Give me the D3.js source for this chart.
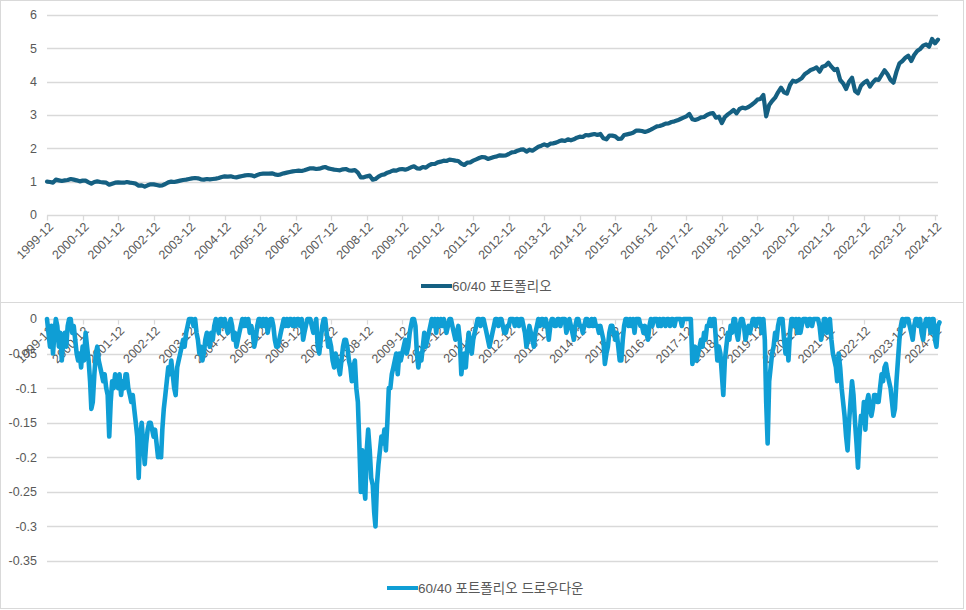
<!DOCTYPE html>
<html><head><meta charset="utf-8">
<script src="https://cdn.jsdelivr.net/npm/d3@7"></script>
<style>
html,body{margin:0;padding:0;background:#fff;}
svg text{font-family:"Liberation Sans","Noto Sans CJK KR",Arial,sans-serif;}
</style></head>
<body><svg id="c" width="966" height="610"></svg>
<script>
// ---- data ----
// portfolio value: monthly, starting 1999-12
const startMonth = "1999-12";
const portfolioValue = [
1.00,
0.99,0.97,1.06,1.04,1.02,1.04,1.05,1.08,1.06,1.04,1.01,1.03,
1.03,0.98,0.94,0.99,1.01,0.99,0.98,0.97,0.91,0.94,0.97,0.98,
0.97,0.97,0.99,0.97,0.96,0.94,0.88,0.89,0.85,0.89,0.92,0.92,
0.90,0.88,0.89,0.93,0.98,1.00,0.99,1.01,1.03,1.05,1.06,1.08,
1.10,1.11,1.10,1.07,1.06,1.08,1.07,1.08,1.09,1.11,1.14,1.16,
1.15,1.16,1.14,1.13,1.15,1.17,1.19,1.20,1.19,1.16,1.20,1.23,
1.24,1.24,1.24,1.25,1.22,1.20,1.22,1.25,1.27,1.29,1.31,1.32,
1.33,1.32,1.34,1.37,1.40,1.40,1.38,1.39,1.42,1.44,1.40,1.38,
1.36,1.35,1.34,1.37,1.38,1.34,1.33,1.35,1.27,1.13,1.13,1.16,
1.18,1.06,1.08,1.15,1.20,1.22,1.27,1.30,1.34,1.33,1.37,1.38,
1.36,1.39,1.43,1.46,1.40,1.39,1.44,1.42,1.49,1.53,1.53,1.58,
1.60,1.63,1.62,1.66,1.65,1.63,1.62,1.54,1.50,1.57,1.58,1.63,
1.67,1.71,1.74,1.73,1.68,1.71,1.74,1.76,1.79,1.78,1.79,1.83,
1.88,1.89,1.93,1.96,1.97,1.90,1.96,1.93,1.99,2.05,2.08,2.12,
2.08,2.14,2.15,2.17,2.21,2.24,2.22,2.27,2.24,2.27,2.32,2.35,
2.34,2.40,2.39,2.41,2.43,2.40,2.43,2.30,2.27,2.38,2.38,2.36,
2.28,2.29,2.40,2.42,2.44,2.47,2.53,2.53,2.52,2.49,2.52,2.56,
2.61,2.66,2.67,2.70,2.74,2.75,2.79,2.81,2.84,2.88,2.92,2.96,
3.03,2.87,2.85,2.88,2.93,2.94,3.00,3.04,3.06,2.92,2.95,2.76,
2.94,3.02,3.08,3.15,3.05,3.18,3.22,3.20,3.24,3.30,3.37,3.46,
3.48,3.60,2.96,3.30,3.42,3.52,3.68,3.82,3.68,3.64,3.90,4.03,
4.00,4.05,4.10,4.22,4.28,4.35,4.38,4.43,4.30,4.45,4.48,4.57,
4.45,4.35,4.38,4.05,3.95,3.78,4.00,4.12,3.72,3.65,3.88,3.97,
4.03,3.85,3.97,4.07,4.05,4.20,4.34,4.22,4.05,3.97,4.30,4.55,
4.62,4.72,4.78,4.62,4.80,4.92,4.98,5.08,5.12,5.05,5.28,5.15,
5.26
];
// drawdown: twice a month (1st, 16th), starting 1999-12
const drawdown = [
0,-0.02,
-0.04,-0.01,-0.05,-0.02,0,-0.01,-0.04,-0.02,-0.06,-0.03,-0.02,-0.04,-0.01,0,0,-0.02,-0.01,-0.03,-0.05,-0.06,-0.05,-0.07,-0.04,-0.06,
-0.02,-0.04,-0.06,-0.09,-0.13,-0.12,-0.08,-0.05,-0.04,-0.06,-0.07,-0.08,-0.09,-0.08,-0.10,-0.11,-0.17,-0.12,-0.09,-0.10,-0.08,-0.09,-0.10,-0.08,
-0.11,-0.09,-0.10,-0.08,-0.08,-0.10,-0.11,-0.12,-0.11,-0.13,-0.15,-0.17,-0.23,-0.17,-0.15,-0.18,-0.21,-0.18,-0.16,-0.15,-0.15,-0.16,-0.17,-0.16,
-0.18,-0.20,-0.19,-0.20,-0.16,-0.13,-0.11,-0.09,-0.07,-0.08,-0.06,-0.08,-0.10,-0.11,-0.07,-0.06,-0.05,-0.04,-0.03,-0.04,-0.02,-0.01,0,0,
0,-0.01,0,-0.02,-0.03,-0.05,-0.04,-0.06,-0.05,-0.03,-0.02,-0.03,-0.04,-0.02,-0.03,-0.01,0,-0.01,-0.02,0,0,-0.01,0,-0.01,
-0.02,-0.01,0,-0.01,-0.03,-0.02,-0.04,-0.03,-0.02,-0.01,0,-0.01,0,-0.01,0,-0.02,-0.01,-0.02,-0.04,-0.03,-0.01,0,0,-0.01,
0,-0.01,0,-0.02,-0.01,0,0,-0.01,-0.03,-0.04,-0.04,-0.03,-0.02,-0.01,0,-0.01,0,-0.01,0,0,-0.01,0,-0.01,0,
0,-0.01,0,-0.03,-0.02,-0.01,0,0,0,-0.01,-0.02,-0.01,0,-0.04,-0.05,-0.03,-0.01,0,0,-0.02,-0.04,-0.03,-0.04,-0.06,
-0.07,-0.05,-0.06,-0.07,-0.08,-0.06,-0.04,-0.03,-0.03,-0.04,-0.06,-0.07,-0.09,-0.07,-0.06,-0.10,-0.12,-0.18,-0.25,-0.19,-0.24,-0.26,-0.19,-0.16,
-0.19,-0.23,-0.24,-0.28,-0.30,-0.24,-0.21,-0.19,-0.17,-0.18,-0.16,-0.19,-0.15,-0.10,-0.10,-0.08,-0.07,-0.06,-0.05,-0.08,-0.05,-0.06,-0.05,-0.04,
-0.03,-0.05,-0.04,-0.02,-0.01,0,0,-0.01,-0.05,-0.07,-0.05,-0.06,-0.04,-0.02,-0.04,-0.03,-0.02,-0.01,0,-0.01,0,-0.02,0,-0.01,
0,-0.01,0,-0.01,-0.02,-0.01,0,0,-0.01,-0.02,-0.03,-0.02,-0.01,-0.03,-0.08,-0.06,-0.05,-0.07,-0.04,-0.02,-0.04,-0.05,-0.03,-0.02,
-0.01,0,0,-0.01,0,0,-0.01,-0.02,-0.03,-0.04,-0.03,-0.02,-0.01,0,0,-0.01,0,0,-0.01,-0.02,-0.02,-0.01,-0.01,0,
0,0,-0.01,0,0,-0.01,0,0,-0.01,-0.02,-0.04,-0.03,-0.01,-0.02,-0.03,-0.04,-0.02,-0.01,0,-0.01,0,0,-0.01,0,
-0.01,-0.03,-0.01,0,0,-0.01,-0.01,0,0,-0.01,0,0,0,-0.02,-0.01,0,-0.01,-0.02,-0.03,-0.01,0,0,-0.01,-0.01,
-0.02,-0.01,0,0,-0.01,-0.01,0,-0.01,0,-0.01,-0.01,-0.02,-0.01,-0.02,-0.03,-0.065,-0.05,-0.04,-0.02,-0.01,-0.01,-0.02,-0.03,-0.02,
-0.04,-0.06,-0.06,-0.03,-0.01,0,0,-0.01,0,-0.01,0,-0.02,0,0,0,-0.01,-0.01,-0.02,-0.01,-0.02,-0.03,-0.01,0,-0.01,
0,0,0,-0.01,0,-0.01,0,0,-0.01,0,0,-0.01,0,0,-0.01,0,0,0,0,-0.01,0,0,0,0,
0,0,-0.065,-0.05,-0.04,-0.06,-0.05,-0.04,-0.03,-0.04,-0.02,-0.03,-0.01,-0.01,0,-0.01,0,0,-0.03,-0.06,-0.04,-0.05,-0.08,-0.11,
-0.06,-0.04,-0.02,-0.03,-0.01,-0.02,0,0,-0.02,-0.03,-0.01,0,0,-0.01,-0.03,-0.02,-0.01,-0.02,-0.01,0,0,-0.01,0,0,
0,-0.02,0,-0.03,-0.12,-0.18,-0.09,-0.07,-0.05,-0.04,-0.02,-0.03,-0.01,0,0,0,-0.03,-0.05,-0.03,-0.06,-0.02,0,0,-0.01,
0,-0.02,0,-0.02,-0.01,0,0,0,-0.01,0,0,-0.01,0,0,0,0,-0.01,-0.03,-0.02,0,0,-0.02,-0.01,0,
-0.03,-0.05,-0.06,-0.07,-0.09,-0.05,-0.07,-0.10,-0.12,-0.14,-0.17,-0.19,-0.15,-0.12,-0.09,-0.11,-0.15,-0.18,-0.215,-0.17,-0.14,-0.15,-0.12,-0.16,
-0.12,-0.11,-0.13,-0.14,-0.13,-0.11,-0.11,-0.12,-0.12,-0.10,-0.08,-0.09,-0.07,-0.065,-0.08,-0.09,-0.10,-0.12,-0.14,-0.13,-0.09,-0.06,-0.03,-0.01,
0,-0.01,0,0,0,-0.01,-0.02,-0.03,-0.01,0,0,-0.01,0,-0.02,-0.03,-0.01,0,-0.01,0,-0.02,0,0,-0.03,-0.04,
-0.01,-0.005
];
const xTickLabels = ["1999-12","2000-12","2001-12","2002-12","2003-12","2004-12","2005-12","2006-12","2007-12","2008-12","2009-12","2010-12","2011-12","2012-12","2013-12","2014-12","2015-12","2016-12","2017-12","2018-12","2019-12","2020-12","2021-12","2022-12","2023-12","2024-12"];
const topYTicks = [0,1,2,3,4,5,6];
const bottomYTicks = [0,-0.05,-0.1,-0.15,-0.2,-0.25,-0.3,-0.35];
const topLegend = "60/40 포트폴리오";
const bottomLegend = "60/40 포트폴리오 드로우다운";
const xDomain = ["1999-12","2025-01"];

const parseM = d3.timeParse("%Y-%m");
const t0 = parseM(startMonth);
const valueDates = portfolioValue.map((_, i) => d3.timeMonth.offset(t0, i));
const ddDates = drawdown.map((_, i) => d3.timeDay.offset(d3.timeMonth.offset(t0, Math.floor(i/2)), (i%2) ? 15 : 0));

const svg = d3.select("#c");
const grid = "#d9d9d9", txt = "#595959";
const c1 = "#156082", c2 = "#0F9ED5";

// frames
svg.append("rect").attr("x",0.5).attr("y",0.5).attr("width",963).attr("height",302).attr("fill","none").attr("stroke",grid);
svg.append("rect").attr("x",0.5).attr("y",302.5).attr("width",963).attr("height",306).attr("fill","none").attr("stroke",grid);

const x = d3.scaleTime().domain(xDomain.map(parseM)).range([47, 938]);
const tickDates = xTickLabels.map(parseM);

function drawPanel(opts){
  const {y, yTicks, fmt, axisY, values, dates, color, width, legend, legY, legX} = opts;
  const g = svg.append("g");
  g.selectAll("line.grid").data(yTicks).join("line")
    .attr("x1", 47).attr("x2", 938)
    .attr("y1", d => Math.round(y(d))+0.5).attr("y2", d => Math.round(y(d))+0.5)
    .attr("stroke", grid).attr("stroke-width", 1.3);
  g.selectAll("text.yl").data(yTicks).join("text")
    .attr("x", 37).attr("y", d => y(d)).attr("dy","0.35em")
    .attr("text-anchor","end").attr("font-size",12.5).attr("fill",txt)
    .text(fmt);
  const ay = Math.round(y(axisY))+0.5;
  g.selectAll("line.xt").data(tickDates).join("line")
    .attr("x1", d => Math.round(x(d))+0.5).attr("x2", d => Math.round(x(d))+0.5)
    .attr("y1", ay).attr("y2", ay+5).attr("stroke", grid).attr("stroke-width",1.3);
  g.selectAll("text.xl").data(tickDates).join("text")
    .attr("transform", d => `translate(${x(d)+4},${ay+9}) rotate(-45)`)
    .attr("text-anchor","end").attr("dy","0.35em")
    .attr("font-size",12.5).attr("fill",txt)
    .text((d,i) => xTickLabels[i]);
  const line = d3.line().x((d,i) => x(dates[i])).y(d => y(d));
  g.append("path").datum(values).attr("d", line)
    .attr("fill","none").attr("stroke",color).attr("stroke-width",width)
    .attr("stroke-linejoin","round").attr("stroke-linecap","round");
  const lg = svg.append("g");
  lg.append("line").attr("x1", legX).attr("x2", legX+31).attr("y1", legY).attr("y2", legY)
    .attr("stroke", color).attr("stroke-width", 4);
  lg.append("text").attr("x", legX+31).attr("y", legY).attr("dy","0.35em")
    .attr("font-size",13.5).attr("fill",txt).text(legend);
}

const yTop = d3.scaleLinear().domain([0,6]).range([215,15]);
drawPanel({y:yTop, yTicks:topYTicks, fmt:d=>d3.format("d")(d), axisY:0, values:portfolioValue, dates:valueDates, color:c1, width:4.2, legend:topLegend, legY:286, legX:421});

const yBot = d3.scaleLinear().domain([-0.35,0]).range([561,319]);
drawPanel({y:yBot, yTicks:bottomYTicks, fmt:d=> d===0 ? "0" : String(+d.toFixed(2)), axisY:0, values:drawdown, dates:ddDates, color:c2, width:4.6, legend:bottomLegend, legY:588, legX:387});
</script></body></html>
